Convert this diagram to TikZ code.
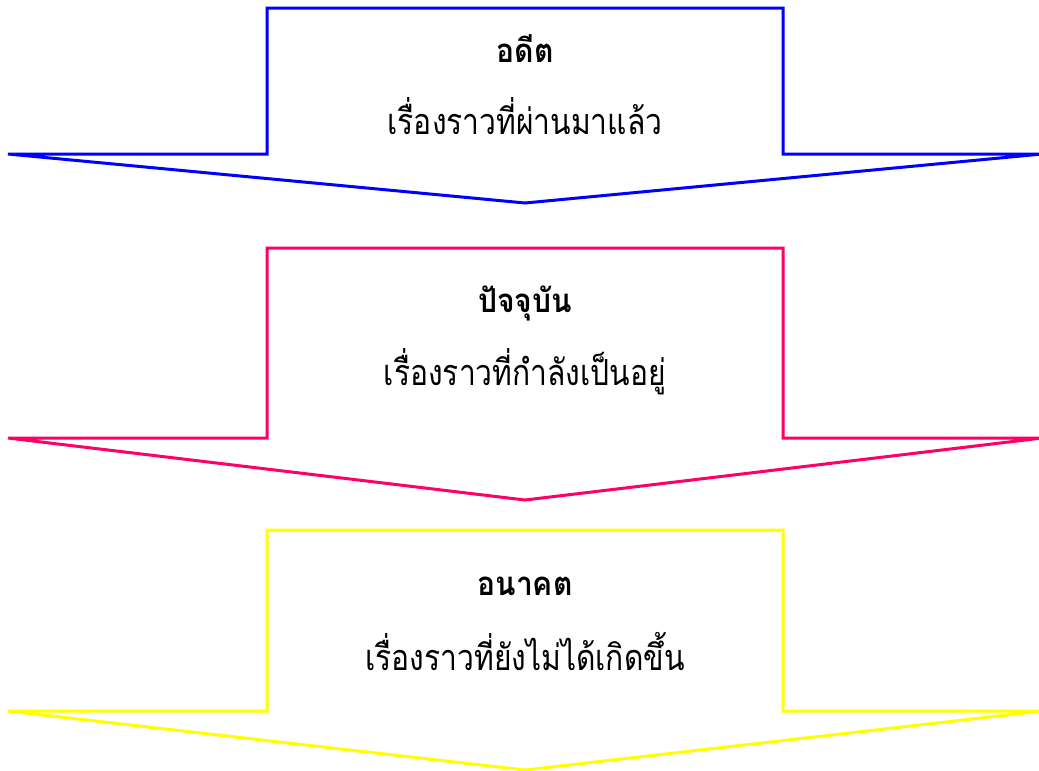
\documentclass[tikz,border=0pt]{standalone}
\usepackage{fontspec}
\newfontfamily\thaifont[Script=Thai]{Loma}
\definecolor{cblue}{RGB}{0,0,255}
\definecolor{cpink}{RGB}{255,0,102}
\definecolor{cyellow}{RGB}{255,255,0}
\tikzset{
  arrowshape/.style={line width=3pt, line join=miter},
  titletext/.style={font=\thaifont\bfseries\fontsize{30}{36}\selectfont, inner sep=0pt, yscale=1.1, transform shape},
  bodytext/.style={font=\thaifont\fontsize{30}{36}\selectfont, inner sep=0pt, yscale=1.2, transform shape},
}
\begin{document}
\begin{tikzpicture}[x=1pt,y=-1pt]
\useasboundingbox (0,0) rectangle (1039,771);
\begin{scope}
\clip (0,0) rectangle (1039,771);
\draw[arrowshape, cblue] (267,8) -- (783,8) -- (783,154) -- (1042,154) -- (525,203) -- (8,154) -- (267,154) -- cycle;
\draw[arrowshape, cpink] (267,248) -- (783,248) -- (783,438) -- (1042,438) -- (525,500) -- (8,438) -- (267,438) -- cycle;
\draw[arrowshape, cyellow] (267,530) -- (783,530) -- (783,711) -- (1042,711) -- (525,770) -- (8,711) -- (267,711) -- cycle;
\end{scope}
\node[titletext] (t1) at (525,49) {อดีต};
\node[bodytext] (b1) at (525,116) {เรื่องราวที่ผ่านมาแล้ว};
\node[titletext] (t2) at (525,303) {ปัจจุบัน};
\node[bodytext] (b2) at (525,372) {เรื่องราวที่กำลังเป็นอยู่};
\node[titletext] (t3) at (525,586) {อนาคต};
\node[bodytext] (b3) at (525,652) {เรื่องราวที่ยังไม่ได้เกิดขึ้น};
\end{tikzpicture}
\end{document}
